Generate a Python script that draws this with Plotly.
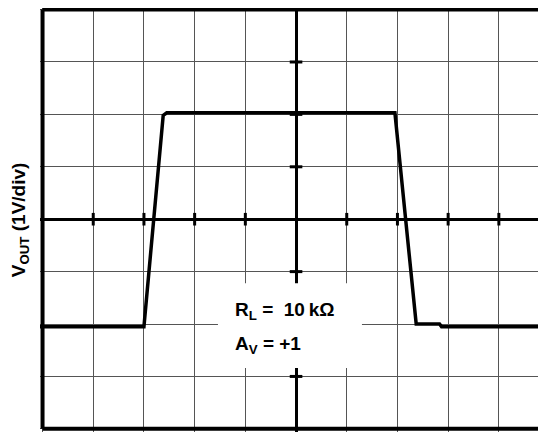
import plotly.graph_objects as go

# scope trace, in divisions (x: time/div, y: 1V/div)
time_div = [-5.1, -3.0, -2.62, -2.55, 1.95, 2.37, 2.83, 2.87, 5.0]
vout_div = [-2.05, -2.05, 1.98, 2.03, 2.03, -2.0, -2.0, -2.05, -2.05]

# graticule tick marks on the centre axes
x_marks = [-4, -3, -2, -1, 1, 2, 3, 4]
y_marks = [-3, -2, -1, 1, 2, 3]

label_rl = "<b>R<sub>L</sub> =\u00a0 10\u2009kΩ</b>"
label_av = "<b>A<sub>V</sub> = +1</b>"
y_title = "<b>V<sub>OUT</sub> (1V/div)</b>"

font_family = "Liberation Sans, Arial, sans-serif"

fig = go.Figure()

# centre-axis ticks
fig.add_trace(go.Scatter(
    x=x_marks, y=[0] * len(x_marks), mode="markers",
    marker=dict(symbol="line-ns", size=9, line=dict(width=3, color="black")),
    hoverinfo="skip", showlegend=False))
fig.add_trace(go.Scatter(
    x=[0] * len(y_marks), y=y_marks, mode="markers",
    marker=dict(symbol="line-ew", size=9, line=dict(width=3, color="black")),
    hoverinfo="skip", showlegend=False))

# output waveform
fig.add_trace(go.Scatter(
    x=time_div, y=vout_div, mode="lines",
    line=dict(color="black", width=3.5),
    showlegend=False))

# frame: left, top, bottom
for x0, y0, x1, y1 in [(-5, -4, -5, 4), (-5, 4, 6, 4), (-5, -4, 6, -4)]:
    fig.add_shape(type="line", x0=x0, y0=y0, x1=x1, y1=y1,
                  line=dict(color="black", width=4), layer="above")

# white box behind the labels
fig.add_shape(type="rect", x0=-1.54, x1=1.3, y0=-2.84, y1=-1.22,
              fillcolor="white", line=dict(width=0), layer="above")

fig.add_annotation(x=-1.24, y=-1.75, xanchor="left", yanchor="middle",
                   text=label_rl, showarrow=False,
                   font=dict(family=font_family, size=19, color="black"))
fig.add_annotation(x=-1.24, y=-2.4, xanchor="left", yanchor="middle",
                   text=label_av, showarrow=False,
                   font=dict(family=font_family, size=19, color="black"))

fig.add_annotation(xref="paper", yref="paper", x=-0.039, y=0.5,
                   xanchor="center", yanchor="middle", textangle=-90,
                   text=y_title, showarrow=False, borderpad=0,
                   font=dict(family=font_family, size=19, color="black"))

fig.update_xaxes(range=[-5.05, 4.93], dtick=1, tick0=0, showticklabels=False,
                 ticks="", showgrid=True, gridcolor="#555", gridwidth=1,
                 zeroline=True, zerolinecolor="black", zerolinewidth=3,
                 showline=False, fixedrange=True)
fig.update_yaxes(range=[-4.06, 4.03], dtick=1, tick0=0, showticklabels=False,
                 ticks="", showgrid=True, gridcolor="#555", gridwidth=1,
                 zeroline=True, zerolinecolor="black", zerolinewidth=3,
                 showline=False, fixedrange=True)

# the page body adds an 8px margin, so the figure is 8px smaller than the window
fig.update_layout(
    width=538, height=424,
    margin=dict(l=32, r=0, t=0, b=0),
    plot_bgcolor="white", paper_bgcolor="white",
    font=dict(family=font_family),
)

fig.write_html("out.html", config={"displayModeBar": False})
